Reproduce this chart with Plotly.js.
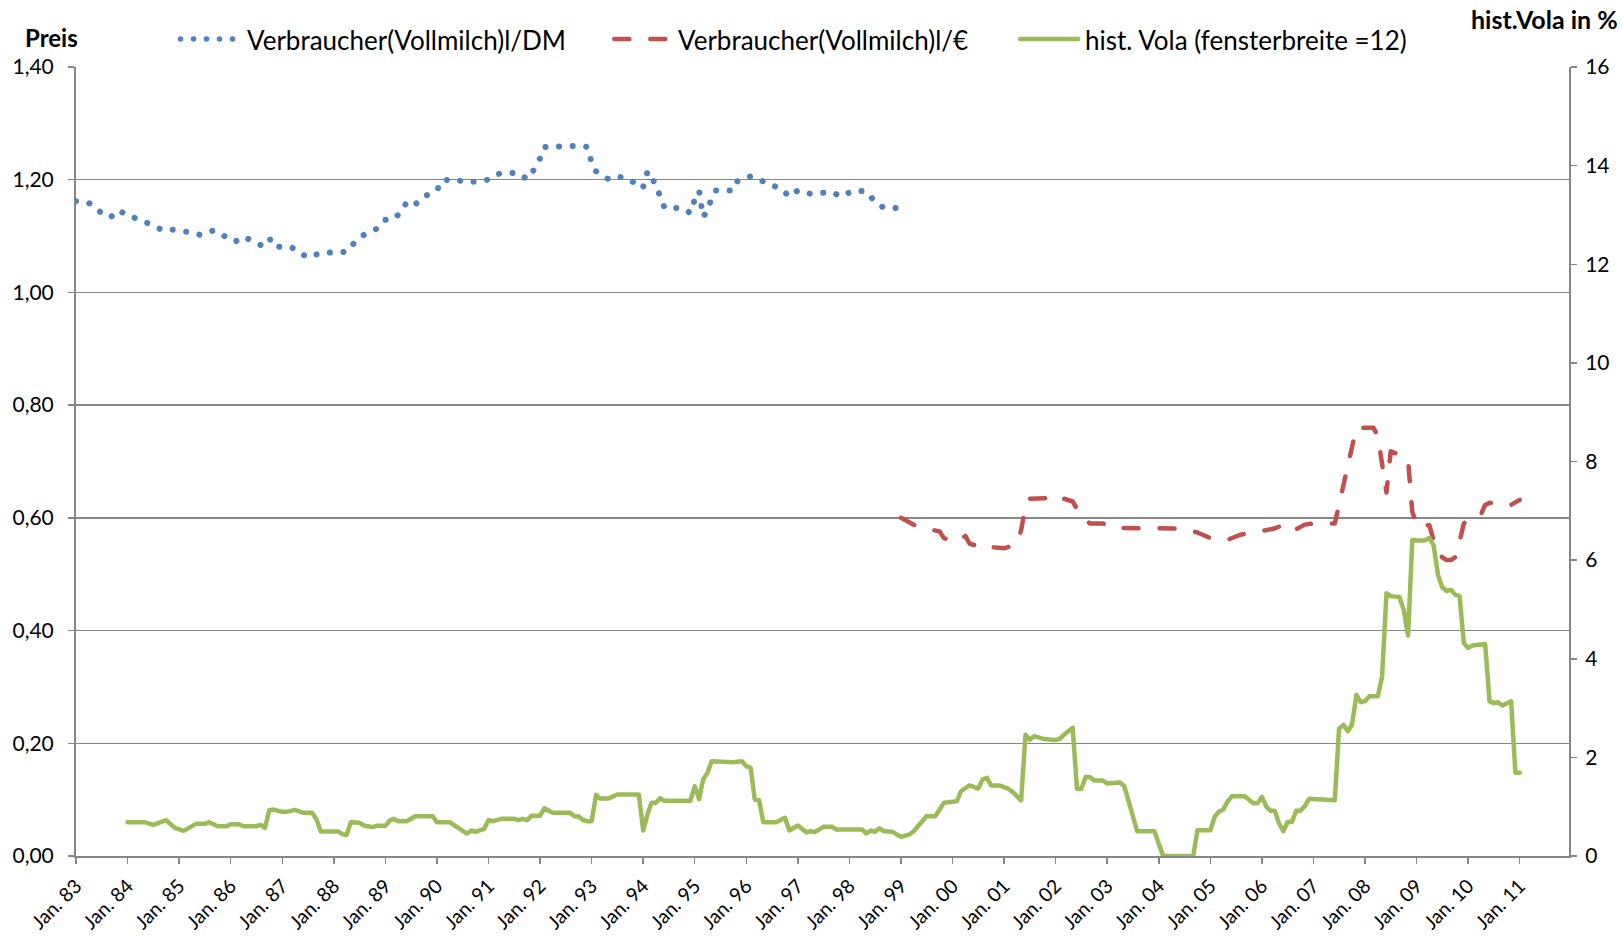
<!DOCTYPE html>
<html><head><meta charset="utf-8">
<script src="https://cdn.plot.ly/plotly-3.0.1.min.js"></script>
<style>
html,body{margin:0;padding:0;background:#fff}
#chart{width:1622px;height:937px}
.js-line{stroke-linecap:round;stroke-linejoin:round}
.shapelayer path{stroke-linecap:round}
</style></head><body><div id="chart"></div>
<script>
// month index: 0 = Jan 1983
const dmMonth = [0,3,6,8,10,12,15,17,20,21,24,27,29,32,34,37,39,41,43,45,
  46,50,52,54,57,60,63,65,67,70,72,74,76,77,79,81,84,85,88,91,
  94,96,98,99,103,105,106,107,108,109,112,115,118,119,120,121,122,124,126,129,
  131,132,133,135,136,137,141,143,144,145,146,147,148,149,153,154,157,159,161,164,
  166,168,171,173,176,178,181,184,186,188,191];
const dmPrice = [1.162,1.159,1.141,1.133,1.146,1.136,1.129,1.121,1.111,1.113,1.110,1.106,1.102,1.110,1.102,1.090,1.099,1.090,1.084,1.097,
  1.081,1.081,1.070,1.062,1.070,1.070,1.072,1.090,1.102,1.113,1.129,1.130,1.145,1.161,1.156,1.170,1.181,1.198,1.201,1.195,
  1.198,1.200,1.209,1.212,1.212,1.201,1.210,1.222,1.238,1.258,1.260,1.260,1.260,1.258,1.230,1.215,1.210,1.201,1.206,1.201,
  1.185,1.188,1.215,1.191,1.170,1.150,1.150,1.141,1.165,1.180,1.134,1.145,1.168,1.181,1.181,1.198,1.206,1.201,1.192,1.185,
  1.170,1.181,1.175,1.177,1.178,1.170,1.181,1.179,1.161,1.150,1.150];

// month index since Jan 1999
const euMonth = [0,4,7,9,10,13,15,16,19,20,21,24,27,28,29,30,34,36,38,40,
  42,44,47,49,66,69,72,76,79,83,87,90,92,94,96,101,102,103,104,105,
  106,108,110,111,112,113,114,116,118,119,120,121,122,123,124,125,126,127,128,129,
  130,131,132,133,134,135,136,137,138,140,142,143,144];
const euPrice = [0.600,0.584,0.579,0.576,0.564,0.557,0.568,0.554,0.548,0.552,0.548,0.546,0.553,0.578,0.620,0.634,0.635,0.642,0.634,0.629,
  0.603,0.590,0.590,0.582,0.581,0.574,0.564,0.561,0.570,0.576,0.581,0.591,0.580,0.588,0.590,0.590,0.625,0.660,0.695,0.730,
  0.760,0.760,0.760,0.745,0.690,0.645,0.718,0.712,0.703,0.610,0.590,0.582,0.587,0.587,0.560,0.540,0.530,0.525,0.525,0.530,
  0.558,0.590,0.597,0.600,0.600,0.606,0.623,0.627,0.625,0.622,0.623,0.627,0.632];

// month index: 0 = Jan 1983
const volMonth = [12,16,18,21,23,25,28,30,31,33,
  35,36,38,39,42,43,44,45,46,48,
  49,51,53,55,56,57,61,62,63,64,
  66,67,68,69,70,72,73,74,75,77,
  79,83,84,87,89,91,92,93,95,96,
  97,99,102,103,104,105,106,108,109,111,
  115,116,117,118,119,120,121,122,124,126,
  131,132,133,134,135,136,137,143,144,145,
  146,147,148,153,155,156,157,158,159,160,
  163,165,166,168,170,171,172,174,176,177,
  183,184,185,186,187,188,190,192,194,195,
  198,200,202,205,206,208,210,211,212,213,
  215,217,218,219,220,221,222,223,225,228,
  229,230,232,233,234,235,236,237,239,240,
  243,244,245,246,247,251,253,260,261,264,
  265,266,267,268,269,272,274,275,276,277,
  278,279,280,281,282,283,284,285,286,287,
  293,294,295,296,297,298,299,300,301,303,
  304,305,306,308,309,310,311,312,314,315,
  316,317,318,319,320,321,322,323,324,325,
  328,329,330,331,332,334,335,336];
const volValue = [0.685,0.685,0.632,0.726,0.571,0.510,0.652,0.652,0.685,0.604,
  0.604,0.645,0.645,0.604,0.604,0.632,0.571,0.928,0.942,0.895,
  0.895,0.935,0.875,0.875,0.740,0.497,0.497,0.442,0.429,0.685,
  0.672,0.618,0.604,0.585,0.611,0.611,0.719,0.753,0.706,0.706,
  0.807,0.807,0.685,0.685,0.571,0.456,0.517,0.490,0.550,0.726,
  0.706,0.753,0.753,0.726,0.753,0.726,0.814,0.814,0.969,0.875,
  0.875,0.807,0.800,0.730,0.706,0.706,1.240,1.165,1.165,1.246,
  1.246,0.517,0.850,1.078,1.078,1.172,1.118,1.118,1.415,1.152,
  1.550,1.686,1.922,1.900,1.920,1.820,1.790,1.145,1.130,0.685,
  0.685,0.774,0.517,0.618,0.483,0.503,0.483,0.591,0.591,0.537,
  0.537,0.456,0.517,0.490,0.564,0.503,0.490,0.389,0.436,0.503,
  0.807,0.807,1.078,1.110,1.313,1.435,1.368,1.550,1.584,1.430,
  1.430,1.360,1.300,1.220,1.130,2.460,2.360,2.430,2.380,2.350,
  2.380,2.460,2.600,1.360,1.360,1.600,1.600,1.530,1.530,1.470,
  1.490,1.420,1.110,0.800,0.503,0.503,0,0,0.523,0.523,
  0.800,0.896,0.940,1.100,1.210,1.210,1.070,1.070,1.200,1.000,
  0.920,0.920,0.670,0.503,0.690,0.690,0.920,0.920,1.010,1.160,
  1.130,2.580,2.660,2.530,2.660,3.270,3.120,3.140,3.240,3.240,
  3.640,5.330,5.270,5.250,5.000,4.470,6.410,6.400,6.400,6.450,
  6.300,5.700,5.450,5.370,5.400,5.300,5.270,4.320,4.220,4.270,
  4.300,3.140,3.100,3.120,3.050,3.140,1.690,1.690];

const tickText = ["Jan. 83","Jan. 84","Jan. 85","Jan. 86","Jan. 87","Jan. 88","Jan. 89","Jan. 90","Jan. 91","Jan. 92",
  "Jan. 93","Jan. 94","Jan. 95","Jan. 96","Jan. 97","Jan. 98","Jan. 99","Jan. 00","Jan. 01","Jan. 02",
  "Jan. 03","Jan. 04","Jan. 05","Jan. 06","Jan. 07","Jan. 08","Jan. 09","Jan. 10","Jan. 11"];
const seriesNames = ["Verbraucher(Vollmilch)l/DM","Verbraucher(Vollmilch)l/€","hist. Vola (fensterbreite =12)"];

function monthToDate(m){
  const y = 1983 + Math.floor(m/12), mo = m % 12 + 1;
  return y + '-' + String(mo).padStart(2,'0') + '-01';
}
const tickVals = tickText.map((t,i)=>monthToDate(i*12));

const BLUE='#4F81BD', RED='#C0504D', GREEN='#9BBB59', GRAY='#868686';
const FONT='Lato, "Open Sans", sans-serif';

const traces = [
  {x: dmMonth.map(monthToDate), y: dmPrice, type:'scatter', mode:'lines', name:seriesNames[0],
   line:{color:BLUE, width:6, dash:'0.1px,13.5px'}, yaxis:'y'},
  {x: euMonth.map(m=>monthToDate(192+m)), y: euPrice, type:'scatter', mode:'lines', name:seriesNames[1],
   line:{color:RED, width:4.5, dash:'15px,21px'}, yaxis:'y'},
  {x: volMonth.map(monthToDate), y: volValue, type:'scatter', mode:'lines', name:seriesNames[2],
   line:{color:GREEN, width:4.5}, yaxis:'y2'}
];

const L=75.5, R=1569, T=67, B=856.5, W=1622, H=937;
const px = X => (X-L)/(R-L);
const py = Y => (B-Y)/(B-T);

const layout = {
  width:W, height:H,
  margin:{l:L, r:W-R, t:T, b:H-B, pad:0},
  paper_bgcolor:'#fff', plot_bgcolor:'#fff',
  font:{family:FONT, size:21, color:'#000'},
  separators:',.',
  showlegend:false,
  xaxis:{type:'date', range:['1983-01-01','2011-12-16'], tickvals:tickVals, ticktext:tickText,
    tickangle:-45, ticks:'outside', ticklen:6, tickcolor:GRAY, tickwidth:1.5, ticklabelstandoff:3,
    showgrid:false, showline:true, linecolor:GRAY, linewidth:2, zeroline:false,
    tickfont:{size:19.5, family:FONT}},
  yaxis:{range:[0,1.4], dtick:0.2, tick0:0, tickformat:'.2f', ticks:'outside', ticklen:6, tickcolor:GRAY, tickwidth:1.5,
    ticklabelstandoff:10,
    showgrid:true, gridcolor:GRAY, gridwidth:1.5, showline:true, linecolor:GRAY, linewidth:2, zeroline:false,
    tickfont:{size:21, family:FONT}},
  yaxis2:{range:[0,16], dtick:2, tick0:0, overlaying:'y', side:'right', ticks:'outside', ticklen:6, tickcolor:GRAY, tickwidth:1.5,
    ticklabelstandoff:4,
    showgrid:false, showline:true, linecolor:GRAY, linewidth:2, zeroline:false,
    tickfont:{size:21, family:FONT}},
  annotations:[
    {text:'<b>Preis</b>', xref:'paper', yref:'paper', x:px(51), y:py(37), xanchor:'center', yanchor:'middle', showarrow:false, font:{size:24, family:FONT}},
    {text:'<b>hist.Vola in %</b>', xref:'paper', yref:'paper', x:px(1620), y:py(19), xanchor:'right', yanchor:'middle', showarrow:false, font:{size:25, family:FONT}},
    {text:seriesNames[0], xref:'paper', yref:'paper', x:px(245), y:py(40), xanchor:'left', yanchor:'middle', showarrow:false, font:{size:26, family:FONT}},
    {text:seriesNames[1], xref:'paper', yref:'paper', x:px(676), y:py(40), xanchor:'left', yanchor:'middle', showarrow:false, font:{size:26, family:FONT}},
    {text:seriesNames[2], xref:'paper', yref:'paper', x:px(1083), y:py(40), xanchor:'left', yanchor:'middle', showarrow:false, font:{size:26, family:FONT}}
  ],
  shapes:[
    {type:'line', xref:'paper', yref:'paper', x0:px(180), x1:px(240), y0:py(39), y1:py(39), line:{color:BLUE, width:5.5, dash:'0.1px,12.9px'}},
    {type:'line', xref:'paper', yref:'paper', x0:px(614), x1:px(666), y0:py(39), y1:py(39), line:{color:RED, width:4.5, dash:'15px,21px'}},
    {type:'line', xref:'paper', yref:'paper', x0:px(1020), x1:px(1078), y0:py(39), y1:py(39), line:{color:GREEN, width:4.5}}
  ]
};

Plotly.newPlot('chart', traces, layout, {displayModeBar:false, staticPlot:true});
</script></body></html>
